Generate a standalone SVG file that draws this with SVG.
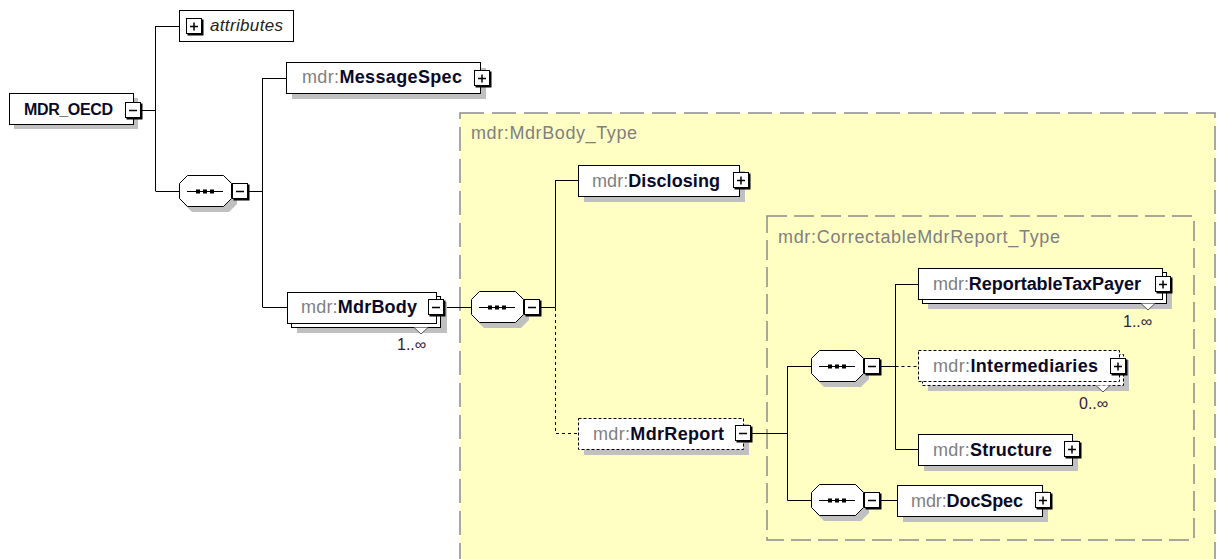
<svg xmlns="http://www.w3.org/2000/svg" xmlns:xlink="http://www.w3.org/1999/xlink" width="1217" height="559" viewBox="0 0 1217 559">
<style>
  .box{fill:#fff;stroke:#000;stroke-width:1}
  .dbox{fill:#fff;stroke:#000;stroke-width:1;stroke-dasharray:3,2}
  .sh{fill:#c0c0c0}
  .ln{fill:none;stroke:#000;stroke-width:1}
  .dln{fill:none;stroke:#000;stroke-width:1;stroke-dasharray:3,3}
  .pre{fill:#808080;font-weight:normal}
  .nm{font-family:"Liberation Sans",Arial,sans-serif;font-size:18px;font-weight:bold;fill:#0a0a28}
  .typ{font-family:"Liberation Sans",Arial,sans-serif;font-size:18px;fill:#808080}
  .occ{font-family:"Liberation Sans",Arial,sans-serif;font-size:16px;fill:#302040}
  .area{fill:#ffffc4;stroke:#8c8c8c;stroke-width:1.5}
</style>
<defs>
  <g id="btn">
    <rect x="0.5" y="0.5" width="15" height="15" fill="#fff" stroke="#000"/>
    <polyline points="16.5,1.5 16.5,16.5 1.5,16.5" fill="none" stroke="#000" stroke-width="2"/>
  </g>
  <g id="plus"><use xlink:href="#btn"/><path d="M4,8.5H12M8,4.5V12.5" stroke="#000" stroke-width="1.5"/></g>
  <g id="minus"><use xlink:href="#btn"/><path d="M4,8.5H12" stroke="#000" stroke-width="1.5"/></g>
  <g id="seq">
    <polygon points="13,5 50,5 58,13 58,29 50,37 13,37 5,29 5,13" class="sh"/>
    <polygon points="8.5,0.5 44.5,0.5 52.5,8.5 52.5,23.5 44.5,31.5 8.5,31.5 0.5,23.5 0.5,8.5" fill="#fff" stroke="#000"/>
    <path d="M8,16.5H44" stroke="#000" stroke-width="1"/>
    <rect x="17" y="14.5" width="4" height="4" fill="#000"/>
    <rect x="24" y="14.5" width="4" height="4" fill="#000"/>
    <rect x="31" y="14.5" width="4" height="4" fill="#000"/>
  </g>
</defs>

<rect width="1217" height="559" fill="#fff"/>

<g id="area-MdrBody_Type">
  <rect x="460" y="113" width="755" height="480" class="area" stroke-dasharray="24,8"/>
  <text x="471" y="139" class="typ" textLength="166">mdr:MdrBody_Type</text>
</g>
<g id="area-CorrectableMdrReport_Type">
  <rect x="767" y="216" width="427" height="324" class="area" stroke-dasharray="20,7"/>
  <text x="778" y="243" class="typ" textLength="282">mdr:CorrectableMdrReport_Type</text>
</g>

<g id="connectors">
  <path class="ln" d="M142,110.5H155.5M155.5,26V191M155.5,26.5H179M155.5,191.5H179"/>
  <path class="ln" d="M249,191.5H262.5M262.5,78V307M262.5,78.5H286M262.5,307.5H287"/>
  <path class="ln" d="M445,307.5H471M541,307.5H555.5M555.5,180V307.5M555.5,180.5H578"/>
  <path class="dln" d="M555.5,308V433.5H578"/>
  <path class="ln" d="M752,433.5H787.5M787.5,366V500.5M787.5,366.5H811M787.5,500.5H811"/>
  <path class="ln" d="M881,366.5H895.5M895.5,284V449.5M895.5,284.5H918M895.5,449.5H918M881,500.5H897"/>
  <path class="dln" d="M895.5,366.5H918"/>
</g>

<g id="node-MDR_OECD">
  <rect x="14" y="98" width="124" height="31" class="sh"/>
  <rect x="9.5" y="93.5" width="124" height="31" class="box"/>
  <text x="24" y="115" class="nm" font-size="16" style="font-size:16px" textLength="89">MDR_OECD</text>
  <use xlink:href="#minus" x="125" y="102"/>
</g>

<g id="node-attributes">
  <rect x="179.5" y="10.5" width="114" height="31" class="box"/>
  <use xlink:href="#plus" x="186" y="18"/>
  <text x="210" y="31" font-family="Liberation Sans, Arial, sans-serif" font-size="17" font-style="italic" fill="#222" textLength="73">attributes</text>
</g>

<g id="seq-1"><use xlink:href="#seq" x="179" y="175"/><use xlink:href="#minus" x="232" y="183"/></g>

<g id="node-MessageSpec">
  <rect x="292" y="68" width="194" height="31" class="sh"/>
  <rect x="286.5" y="62.5" width="194" height="31" class="box"/>
  <text x="302" y="83" class="nm" textLength="160"><tspan class="pre">mdr:</tspan>MessageSpec</text>
  <use xlink:href="#plus" x="474" y="70"/>
</g>

<g id="node-MdrBody">
  <rect x="297" y="302" width="150" height="31" class="sh"/>
  <rect x="291.5" y="296.5" width="149" height="31" class="box"/>
  <rect x="287.5" y="292.5" width="149" height="31" class="box"/>
  <text x="301" y="313" class="nm" textLength="116"><tspan class="pre">mdr:</tspan>MdrBody</text>
  <use xlink:href="#minus" x="428" y="299"/>
  <polyline points="414,327.5 421,334 428,327.5" fill="#fff" stroke="#555"/>
  <text x="397" y="350" class="occ">1..∞</text>
</g>

<g id="seq-2"><use xlink:href="#seq" x="471" y="291"/><use xlink:href="#minus" x="524" y="299"/></g>

<g id="node-Disclosing">
  <rect x="584" y="171" width="161" height="31" class="sh"/>
  <rect x="578.5" y="165.5" width="161" height="31" class="box"/>
  <text x="592" y="187" class="nm" textLength="128"><tspan class="pre">mdr:</tspan>Disclosing</text>
  <use xlink:href="#plus" x="733" y="172"/>
</g>

<g id="node-MdrReport">
  <rect x="584" y="424" width="165" height="31" class="sh"/>
  <rect x="578.5" y="418.5" width="165" height="31" class="dbox"/>
  <text x="593" y="440" class="nm" textLength="131"><tspan class="pre">mdr:</tspan>MdrReport</text>
  <use xlink:href="#minus" x="735" y="425"/>
</g>

<g id="seq-3"><use xlink:href="#seq" x="811" y="350"/><use xlink:href="#minus" x="864" y="358"/></g>
<g id="seq-4"><use xlink:href="#seq" x="811" y="484"/><use xlink:href="#minus" x="864" y="492"/></g>

<g id="node-ReportableTaxPayer">
  <rect x="928" y="278" width="244" height="31" class="sh"/>
  <rect x="922.5" y="272.5" width="244" height="31" class="box"/>
  <rect x="918.5" y="268.5" width="244" height="31" class="box"/>
  <text x="933" y="290" class="nm" textLength="208"><tspan class="pre">mdr:</tspan>ReportableTaxPayer</text>
  <use xlink:href="#plus" x="1155" y="276"/>
  <polyline points="1141,303.5 1148,310 1155,303.5" fill="#fff" stroke="#555"/>
  <text x="1123" y="327" class="occ">1..∞</text>
</g>

<g id="node-Intermediaries">
  <rect x="928" y="360" width="201" height="31" class="sh"/>
  <rect x="922.5" y="354.5" width="201" height="31" class="dbox"/>
  <rect x="918.5" y="350.5" width="201" height="31" class="dbox"/>
  <text x="933" y="372" class="nm" textLength="165"><tspan class="pre">mdr:</tspan>Intermediaries</text>
  <use xlink:href="#plus" x="1110" y="358"/>
  <polyline points="1096,385.5 1103,392 1110,385.5" fill="#fff" stroke="#555"/>
  <text x="1079" y="409" class="occ">0..∞</text>
</g>

<g id="node-Structure">
  <rect x="924" y="440" width="154" height="31" class="sh"/>
  <rect x="918.5" y="434.5" width="154" height="31" class="box"/>
  <text x="933" y="456" class="nm" textLength="119"><tspan class="pre">mdr:</tspan>Structure</text>
  <use xlink:href="#plus" x="1064" y="441"/>
</g>

<g id="node-DocSpec">
  <rect x="903" y="491" width="145" height="31" class="sh"/>
  <rect x="897.5" y="485.5" width="145" height="31" class="box"/>
  <text x="911" y="507" class="nm" textLength="112"><tspan class="pre">mdr:</tspan>DocSpec</text>
  <use xlink:href="#plus" x="1035" y="492"/>
</g>
</svg>
